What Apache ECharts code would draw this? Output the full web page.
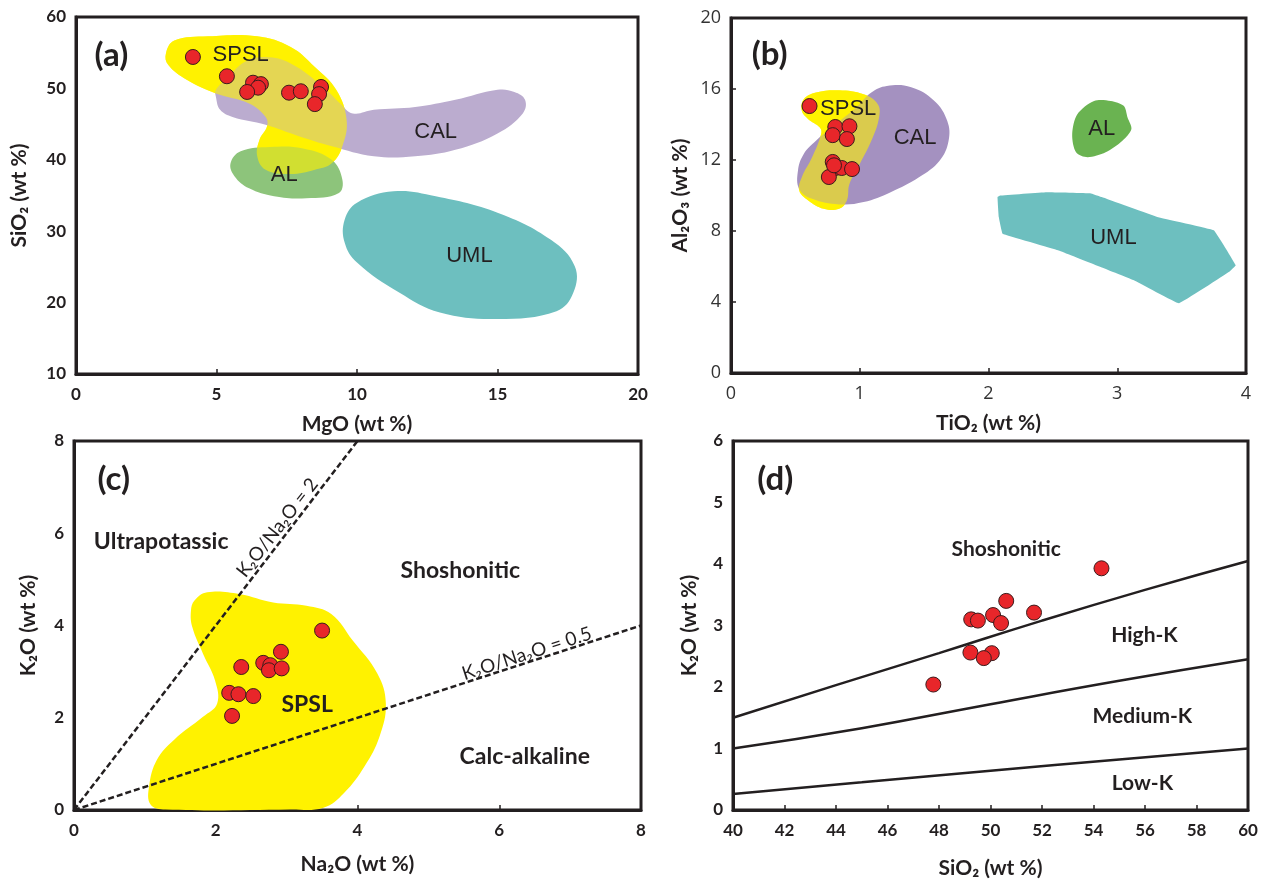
<!DOCTYPE html>
<html>
<head>
<meta charset="utf-8">
<script src="https://cdn.jsdelivr.net/npm/echarts@6/dist/echarts.min.js"></script>
<style>
  html, body { margin: 0; padding: 0; background: #fff; }
  #chart { width: 1265px; height: 880px; }
</style>
</head>
<body>
<div id="chart"></div>
<script>
// ---- data ----
// (a) MgO vs SiO2
const samplesA = [[4.16, 54.4], [5.37, 51.7], [6.3, 50.8], [6.58, 50.6], [6.48, 50.1], [6.09, 49.5],
  [7.58, 49.4], [8.0, 49.6], [8.72, 50.2], [8.65, 49.2], [8.5, 47.8]]
const spslA = [[3.2, 54.9], [3.5, 56.7], [4.7, 57.3], [6.45, 57.3], [7.64, 55.8], [8.5, 53.0], [9.26, 49.8],
  [9.63, 45.6], [9.48, 41.9], [9.1, 39.5], [8.5, 38.6], [7.64, 38.0], [6.75, 38.6], [6.45, 40.5],
  [6.53, 42.8], [6.8, 44.7], [6.75, 46.0], [6.16, 47.9], [4.98, 49.3], [3.94, 51.2], [3.28, 53.3]]
const calA = [[4.98, 48.8], [5.13, 47.0], [5.57, 46.0], [6.75, 44.9], [7.93, 43.3], [9.11, 41.9], [10.6, 40.5],
  [12.07, 40.5], [13.5, 41.4], [15.0, 43.7], [15.9, 46.5], [15.98, 48.4], [15.6, 49.5], [15.0, 49.8],
  [13.5, 48.4], [12.07, 47.4], [10.6, 47.0], [9.85, 46.5], [9.4, 47.9], [8.8, 50.2], [7.64, 53.5],
  [6.75, 54.4], [6.0, 53.7], [5.42, 51.6], [4.98, 49.8]]
const alA = [[5.5, 39.5], [5.86, 41.2], [6.9, 41.8], [8.08, 41.6], [9.1, 40.0], [9.48, 37.2], [9.34, 35.3],
  [8.2, 34.6], [7.05, 34.9], [6.16, 36.0], [5.64, 37.7]]
const umlA = [[9.56, 31.6], [10.0, 34.0], [11.3, 35.6], [12.8, 34.9], [15.0, 32.6], [16.9, 28.8], [17.75, 25.1],
  [17.7, 21.4], [17.1, 18.8], [15.0, 17.7], [12.95, 18.6], [11.5, 21.4], [10.0, 25.6], [9.56, 28.4]]
const namesA = [['SPSL', 5.86, 54.65], ['CAL', 12.8, 43.95], ['AL', 7.41, 37.9], ['UML', 14.0, 26.5]]

// (b) TiO2 vs Al2O3
const samplesB = [[0.61, 15.04], [0.81, 13.86], [0.92, 13.9], [0.79, 13.4], [0.9, 13.18], [0.79, 11.89],
  [0.81, 11.55], [0.86, 11.55], [0.94, 11.49], [0.76, 11.04], [0.8, 11.7]]
const spslB = [[0.55, 14.77], [0.565, 15.42], [0.66, 15.8], [0.84, 15.93], [1.03, 15.7], [1.14, 15.14],
  [1.15, 14.4], [1.09, 13.08], [1.0, 11.77], [0.92, 10.65], [0.9, 9.72], [0.84, 9.25], [0.72, 9.25],
  [0.6, 9.72], [0.53, 10.28], [0.55, 11.03], [0.63, 12.15], [0.7, 13.46], [0.69, 13.83], [0.6, 14.3]]
const calB = [[0.52, 11.4], [0.565, 12.34], [0.66, 13.08], [0.78, 13.83], [0.97, 14.95], [1.09, 15.8],
  [1.21, 16.17], [1.4, 16.1], [1.58, 15.33], [1.68, 14.2], [1.69, 13.08], [1.62, 11.96], [1.46, 11.03],
  [1.24, 10.19], [1.03, 9.63], [0.84, 9.5], [0.63, 9.81], [0.53, 10.37]]
const alB = [[2.65, 13.46], [2.69, 14.58], [2.82, 15.33], [2.95, 15.33], [3.05, 15.05], [3.08, 14.4],
  [3.11, 13.74], [3.04, 13.08], [2.91, 12.43], [2.77, 12.15], [2.68, 12.43]]
const umlB = [[2.07, 9.91], [2.09, 10.0], [2.45, 10.19], [2.79, 10.13], [2.88, 9.91], [3.31, 8.79],
  [3.75, 8.04], [3.92, 6.07], [3.87, 5.7], [3.48, 3.93], [3.13, 5.23], [2.54, 6.92], [2.11, 7.85], [2.08, 8.79]]
const namesB = [['SPSL', 0.91, 14.86], ['CAL', 1.43, 13.27], ['AL', 2.88, 13.74], ['UML', 2.97, 7.63]]

// (c) Na2O vs K2O
const samplesC = [[3.5, 3.89], [2.36, 3.1], [2.67, 3.19], [2.77, 3.14], [2.75, 3.03], [2.92, 3.43],
  [2.93, 3.07], [2.19, 2.54], [2.32, 2.51], [2.53, 2.47], [2.23, 2.04]]
const spslC = [[1.7, 4.54], [1.88, 4.72], [2.34, 4.68], [2.81, 4.5], [3.28, 4.43], [3.63, 4.25], [3.93, 3.68],
  [4.28, 2.96], [4.4, 2.31], [4.31, 1.59], [4.1, 0.95], [3.81, 0.37], [3.52, 0.05], [3.05, 0.01],
  [1.29, 0.01], [1.08, 0.12], [1.06, 0.52], [1.17, 1.09], [1.41, 1.52], [1.82, 2.02], [2.02, 2.31],
  [1.99, 2.81], [1.82, 3.39], [1.67, 3.96], [1.65, 4.32]]
const ratio2 = [[0, 0], [4, 8]]
const ratioHalf = [[0, 0], [8, 4]]
const namesC = [['Ultrapotassic', 1.23, 5.83], ['Shoshonitic', 5.45, 5.18], ['SPSL', 3.29, 2.28],
  ['Calc-alkaline', 6.36, 1.16]]
const ratioNames = [['K₂O/Na₂O = 2', 2.87, 6.12], ['K₂O/Na₂O = 0.5', 6.39, 3.39]]

// (d) SiO2 vs K2O
const samplesD = [[54.31, 3.93], [50.61, 3.4], [51.69, 3.21], [50.1, 3.17], [50.41, 3.04], [49.25, 3.1],
  [49.51, 3.08], [49.22, 2.56], [50.05, 2.55], [49.74, 2.47], [47.78, 2.04]]
const shoBoundary = [[40, 1.5], [44, 2.03], [48, 2.55], [52, 3.08], [56, 3.58], [60, 4.05]]
const highKBoundary = [[40, 1.0], [45, 1.33], [50, 1.72], [55, 2.1], [60, 2.45]]
const lowKBoundary = [[40, 0.26], [45, 0.45], [50, 0.64], [55, 0.82], [60, 1.0]]
const namesD = [['Shoshonitic', 50.61, 4.24], ['High-K', 55.98, 2.84], ['Medium-K', 55.9, 1.53], ['Low-K', 55.9, 0.43]]

const panelTags = [['(a)', 0, 1.26, 54.65], ['(b)', 1, 0.3, 17.94], ['(c)', 2, 0.56, 7.16], ['(d)', 3, 41.64, 5.37]]

// ---- styles ----
const ink = '#231f20'
const boldFont = 'Lato, "Noto Sans", sans-serif'
const plainFont = '"Open Sans", "Noto Sans", sans-serif'
const arialFont = '"Liberation Sans", Arial, sans-serif'
const yellow = '#fff200'
const red = '#e8262a'

const chart = echarts.init(document.getElementById('chart'))

const region = (idx, pts, color, opacity, z, smooth) => ({
  type: 'custom',
  xAxisIndex: idx,
  yAxisIndex: idx,
  z: z,
  silent: true,
  data: [pts[0]],
  renderItem: (params, api) => ({
    type: 'polygon',
    shape: { points: pts.map(p => api.coord(p)), smooth: smooth },
    style: { fill: color, opacity: opacity }
  })
})

const samples = (idx, pts) => ({
  type: 'scatter',
  xAxisIndex: idx,
  yAxisIndex: idx,
  z: 10,
  symbolSize: 15,
  data: pts,
  itemStyle: { color: red, borderColor: '#3b1c1c', borderWidth: 1, opacity: 1 }
})

const texts = (idx, list, font, size, weight, rotations) => ({
  type: 'scatter',
  xAxisIndex: idx,
  yAxisIndex: idx,
  z: 12,
  symbolSize: 0,
  silent: true,
  itemStyle: { opacity: 1 },
  data: list.map(t => [t[1], t[2], t[0]]),
  label: {
    show: true,
    position: 'inside',
    formatter: p => p.value[2],
    color: ink,
    fontFamily: font,
    fontSize: size,
    fontWeight: weight
  },
  labelLayout: rotations ? (p => ({ rotate: rotations[p.dataIndex] })) : null
})

const xAxis = (idx, min, max, interval, name, bold, gap) => ({
  type: 'value',
  gridIndex: idx,
  min: min,
  max: max,
  interval: interval,
  name: name,
  nameLocation: 'middle',
  nameGap: gap,
  nameTextStyle: { color: ink, fontFamily: boldFont, fontWeight: 'bold', fontSize: 21 },
  axisLine: { show: true, lineStyle: { color: ink, width: 3 } },
  axisTick: { show: true, inside: true, length: 5, lineStyle: { color: ink, width: 1.5 } },
  axisLabel: {
    color: bold ? ink : '#333',
    margin: 12,
    fontFamily: bold ? boldFont : plainFont,
    fontWeight: bold ? 'bold' : 'normal',
    fontSize: bold ? 17 : 18
  },
  splitLine: { show: false }
})

const yAxis = (idx, min, max, interval, name, bold, gap, ticks) => ({
  type: 'value',
  gridIndex: idx,
  min: min,
  max: max,
  interval: interval,
  name: name,
  nameLocation: 'middle',
  nameGap: gap,
  nameTextStyle: { color: ink, fontFamily: boldFont, fontWeight: 'bold', fontSize: 21 },
  axisLine: { show: true, lineStyle: { color: ink, width: 3 } },
  axisTick: { show: ticks, inside: true, length: 5, lineStyle: { color: ink, width: 1.5 } },
  axisLabel: {
    color: bold ? ink : '#333',
    margin: 10,
    fontFamily: bold ? boldFont : plainFont,
    fontWeight: bold ? 'bold' : 'normal',
    fontSize: bold ? 17 : 18
  },
  splitLine: { show: false }
})

const boundary = (idx, pts, dashed) => ({
  type: 'line',
  xAxisIndex: idx,
  yAxisIndex: idx,
  z: 8,
  silent: true,
  symbol: 'none',
  smooth: !dashed,
  data: pts,
  lineStyle: { color: ink, width: 2.5, type: dashed ? [6, 3] : 'solid' }
})

const gridBox = { show: true, borderColor: ink, borderWidth: 3, backgroundColor: 'transparent' }

const option = {
  animation: false,
  backgroundColor: '#fff',
  grid: [
    Object.assign({ left: 76, top: 17, width: 562, height: 357 }, gridBox),
    Object.assign({ left: 731, top: 18, width: 515, height: 355 }, gridBox),
    Object.assign({ left: 74, top: 441, width: 567, height: 369 }, gridBox),
    Object.assign({ left: 733, top: 441, width: 515, height: 370 }, gridBox)
  ],
  xAxis: [
    xAxis(0, 0, 20, 5, 'MgO (wt %)', true, 40),
    xAxis(1, 0, 4, 1, 'TiO₂ (wt %)', false, 40),
    xAxis(2, 0, 8, 2, 'Na₂O (wt %)', true, 44),
    xAxis(3, 40, 60, 2, 'SiO₂ (wt %)', true, 48)
  ],
  yAxis: [
    yAxis(0, 10, 60, 10, 'SiO₂ (wt %)', true, 46, false),
    yAxis(1, 0, 20, 4, 'Al₂O₃ (wt %)', false, 40, true),
    yAxis(2, 0, 8, 2, 'K₂O (wt %)', true, 35, false),
    yAxis(3, 0, 6, 1, 'K₂O (wt %)', true, 33, false)
  ],
  series: [
    // (a)
    region(0, spslA, yellow, 1, 1, 0.4),
    region(0, alA, '#8dc47b', 1, 2, 0.4),
    region(0, calA, '#bbaccf', 1, 2, 0.4),
    region(0, umlA, '#6dbfbf', 1, 2, 0.4),
    region(0, spslA, yellow, 0.6, 3, 0.4),
    samples(0, samplesA),
    texts(0, namesA, arialFont, 22, 'normal'),
    // (b)
    region(1, spslB, yellow, 1, 1, 0.4),
    region(1, calB, '#a491c0', 1, 2, 0.4),
    region(1, alB, '#6ab351', 1, 2, 0.3),
    region(1, umlB, '#6dbfbf', 1, 2, 0.05),
    region(1, spslB, yellow, 0.6, 3, 0.4),
    samples(1, samplesB),
    texts(1, namesB, arialFont, 22, 'normal'),
    // (c)
    region(2, spslC, yellow, 1, 1, 0.4),
    boundary(2, ratio2, true),
    boundary(2, ratioHalf, true),
    samples(2, samplesC),
    texts(2, namesC, boldFont, 23, 'bold'),
    texts(2, ratioNames, boldFont, 19, 'normal', [52, 18]),
    // (d)
    boundary(3, shoBoundary, false),
    boundary(3, highKBoundary, false),
    boundary(3, lowKBoundary, false),
    samples(3, samplesD),
    texts(3, namesD, boldFont, 21, 'bold'),
    // panel tags
    ...panelTags.map(t => texts(t[1], [[t[0], t[2], t[3]]], boldFont, 33, 'bold'))
  ]
}

chart.setOption(option)
</script>
</body>
</html>
